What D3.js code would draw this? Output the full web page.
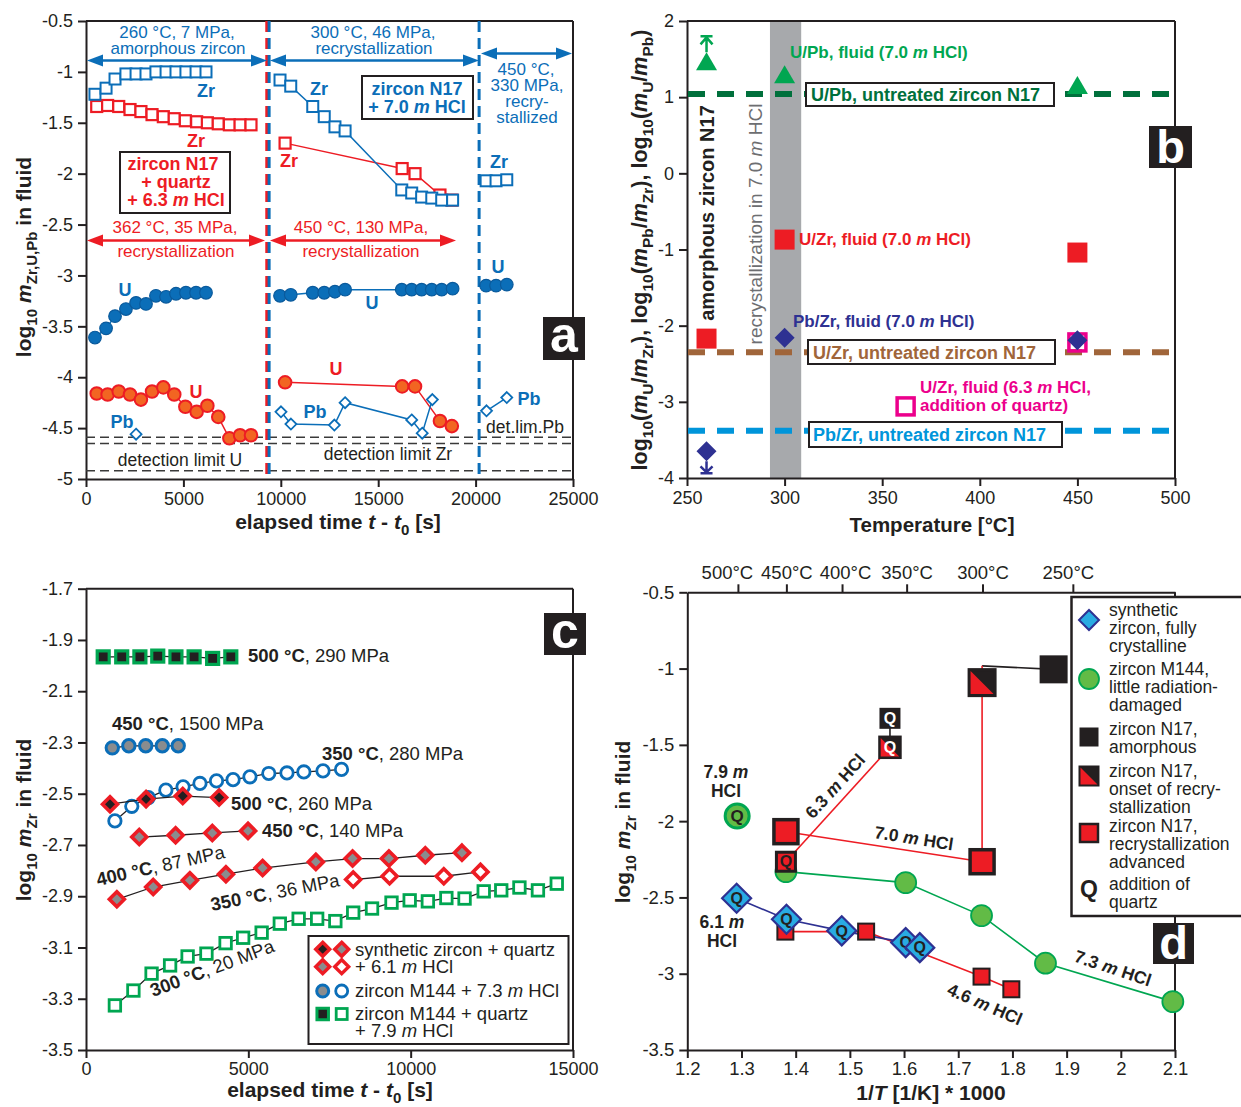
<!DOCTYPE html>
<html><head><meta charset="utf-8">
<script src="https://cdn.jsdelivr.net/npm/d3@7"></script>
<style>body{margin:0;background:#fff}svg{display:block;font-family:"Liberation Sans",Arial,Helvetica,sans-serif}</style>
</head><body><svg id="c" width="1241" height="1107"></svg>
<script>
// ---------------- DATA ----------------
// Panel a: elapsed time (s) and log10 m in fluid
const aXTicks = [0, 5000, 10000, 15000, 20000, 25000];
const aYTicks = [-0.5, -1, -1.5, -2, -2.5, -3, -3.5, -4, -4.5, -5];
const aTime260 = [460, 1030, 1490, 2050, 2570, 3080, 3590, 4110, 4620, 5130, 5650, 6160];
const aZr260 = [-1.22, -1.16, -1.07, -1.02, -1.02, -1.02, -1.0, -1.0, -1.0, -1.0, -1.0, -1.0];
const aU260 = [-3.61, -3.52, -3.40, -3.33, -3.27, -3.28, -3.20, -3.21, -3.18, -3.17, -3.17, -3.17];
const aPb260Time = [2570];
const aPb260 = [-4.56];
const aTime362 = [550, 1110, 1680, 2260, 2820, 3390, 3970, 4530, 5100, 5680, 6230, 6790, 7360, 7910, 8470];
const aZr362 = [-1.34, -1.33, -1.34, -1.37, -1.39, -1.42, -1.44, -1.46, -1.48, -1.49, -1.50, -1.51, -1.52, -1.52, -1.52];
const aU362 = [-4.16, -4.17, -4.14, -4.17, -4.22, -4.14, -4.10, -4.17, -4.29, -4.34, -4.28, -4.39, -4.60, -4.57, -4.57];
const aTime300 = [9960, 10510, 11640, 12230, 12780, 13300, 16210, 16720, 17230, 17750, 18260, 18820];
const aZr300 = [-1.08, -1.14, -1.34, -1.44, -1.54, -1.58, -2.16, -2.19, -2.23, -2.24, -2.26, -2.26];
const aU300 = [-3.20, -3.19, -3.17, -3.17, -3.16, -3.14, -3.14, -3.14, -3.14, -3.14, -3.14, -3.13];
const aPb300Time = [10010, 10520, 12750, 13300, 16720, 17260, 17780];
const aPb300 = [-4.34, -4.46, -4.47, -4.25, -4.42, -4.55, -4.22];
const aTime450r = [10220, 16230, 16890, 18170, 18780];
const aZr450r = [-1.70, -1.95, -2.00, -2.21, -2.26];
const aU450r = [-4.05, -4.09, -4.09, -4.43, -4.48];
const aTime450b = [20540, 21050, 21600];
const aZr450b = [-2.07, -2.07, -2.06];
const aU450b = [-3.10, -3.10, -3.09];
const aPb450Time = [20560, 21600];
const aPb450b = [-4.33, -4.20];
const aDetLimits = [-4.59, -4.65, -4.92];
const aPhaseRed = [9280];
const aPhaseBlue = [9400, 20180];

// Panel b: temperature (°C) and log ratios
const bXTicks = [250, 300, 350, 400, 450, 500];
const bYTicks = [2, 1, 0, -1, -2, -3, -4];
const bTemp = [260, 300, 450];
const bUPb = [1.47, 1.30, 1.16];
const bUZr = [-2.17, -0.87, -1.04];
const bPbZr = [-3.65, -2.16, -2.19];
const bQTemp = [362, 450];
const bUZrQ = [-3.06, -2.22];
const bRefUPb = 1.04, bRefUZr = -2.35, bRefPbZr = -3.38;
const bBand = [292.5, 308.5];

// Panel c: elapsed time (s), log10 mZr
const cXTicks = [0, 5000, 10000, 15000];
const cYTicks = [-1.7, -1.9, -2.1, -2.3, -2.5, -2.7, -2.9, -3.1, -3.3, -3.5];
const c500qT = [530, 1100, 1660, 2210, 2770, 3330, 3900, 4460];
const c500q = [-1.966, -1.966, -1.966, -1.963, -1.966, -1.966, -1.972, -1.966];
const c450mT = [810, 1320, 1840, 2350, 2840];
const c450m = [-2.321, -2.313, -2.313, -2.313, -2.313];
const c350mT = [890, 1410, 1920, 2460, 2990, 3510, 4020, 4530, 5050, 5630, 6190, 6710, 7300, 7870];
const c350m = [-2.606, -2.549, -2.515, -2.486, -2.473, -2.460, -2.450, -2.445, -2.434, -2.421, -2.419, -2.415, -2.411, -2.405];
const c500sT = [740, 1850, 2980, 4100];
const c500s = [-2.541, -2.521, -2.509, -2.515];
const c450sT = [1640, 2760, 3890, 4990];
const c450s = [-2.669, -2.662, -2.653, -2.645];
const c400sT = [950, 2070, 3200, 4310, 5440, 7080, 8210, 9330, 10450, 11580];
const c400s = [-2.912, -2.864, -2.838, -2.814, -2.790, -2.766, -2.753, -2.753, -2.740, -2.730];
const c350sT = [8230, 9350, 11020, 12150];
const c350s = [-2.835, -2.822, -2.822, -2.805];
const c300qT = [890, 1460, 2020, 2590, 3130, 3710, 4300, 4840, 5410, 5970, 6550, 7120, 7680, 8230, 8810, 9410, 9970, 10530, 11100, 11660, 12250, 12790, 13350, 13920, 14500];
const c300q = [-3.326, -3.268, -3.202, -3.170, -3.135, -3.124, -3.083, -3.062, -3.042, -3.007, -2.988, -2.988, -2.997, -2.964, -2.948, -2.925, -2.916, -2.920, -2.907, -2.909, -2.881, -2.877, -2.866, -2.877, -2.851];

// Panel d: 1000/T (1/K) and log10 mZr
const dXTicks = [1.2, 1.3, 1.4, 1.5, 1.6, 1.7, 1.8, 1.9, 2, 2.1];
const dYTicks = [-0.5, -1, -1.5, -2, -2.5, -3, -3.5];
const dTopTemps = [500, 450, 400, 350, 300, 250];
const dSynthX = [1.291, 1.383, 1.485, 1.603, 1.629];
const dSynthY = [-2.505, -2.643, -2.719, -2.796, -2.829];
const dM144X = [1.382, 1.603, 1.743, 1.861, 2.096];
const dM144Y = [-2.331, -2.403, -2.619, -2.931, -3.183];
const dM144QX = [1.292];
const dM144QY = [-1.966];
const dN17lowX = [1.381, 1.530, 1.743, 1.798];
const dN17lowY = [-2.724, -2.724, -3.019, -3.102];
const dN17hiX = [1.382, 1.744];
const dN17hiY = [-2.069, -2.266];
const dAmorphX = [1.876];
const dAmorphY = [-1.005];
const dOnsetX = [1.744];
const dOnsetY = [-1.092];
const dJointX = [1.876, 1.744, 1.744];
const dJointY = [-1.005, -0.982, -2.266];
const dQredX = [1.382];
const dQredY = [-2.266];
const dQonsetX = [1.574];
const dQonsetY = [-1.516];
const dQamorphX = [1.574];
const dQamorphY = [-1.326];

// ---------------- HELPERS ----------------
const svg = d3.select('#c');
const INK = '#231f20', BLUE = '#0b6eb8', RED = '#ed1c24', ORANGE = '#f26522', GREEN = '#00a651',
  DKGREEN = '#00703c', BROWN = '#a0653a', SKY = '#0095da', MAG = '#ec008c', NAVY = '#2e3192',
  CYAN = '#29abe2', LGREEN = '#62bb46', GRAY = '#8a8c8e';
const FONT = '"Liberation Sans", Arial, Helvetica, sans-serif';

function rich(t, parts, size) {
  let shift = 0;
  parts.forEach(p => {
    if (typeof p === 'string') p = { t: p };
    const ts = t.append('tspan').text(p.t);
    const target = p.sub ? size * 0.27 : 0;
    if (target !== shift) { ts.attr('dy', target - shift); shift = target; }
    if (p.sub) ts.attr('font-size', size * 0.72);
    if (p.i) ts.attr('font-style', 'italic');
    if (p.w) ts.attr('font-weight', p.w);
  });
}
function txt(g, x, y, parts, o = {}) {
  const size = o.size || 17;
  const t = g.append('text').attr('x', x).attr('y', y).attr('font-size', size)
    .attr('fill', o.fill || INK).attr('text-anchor', o.anchor || 'start')
    .attr('font-weight', o.weight || 'normal');
  if (o.transform) t.attr('transform', o.transform);
  if (o.dy) t.attr('dy', o.dy);
  if (typeof parts === 'string') t.text(parts); else rich(t, parts, size);
  return t;
}
function axis(g, gen, tr, fs) {
  const a = g.append('g').attr('transform', tr).call(gen);
  a.attr('font-family', FONT);
  a.selectAll('path.domain').attr('stroke', INK).attr('stroke-width', 2);
  a.selectAll('.tick line').attr('stroke', INK).attr('stroke-width', 2);
  a.selectAll('.tick text').attr('fill', INK).attr('font-size', fs || 18);
  return a;
}
function sq(g, x, y, s, fill, stroke, sw) {
  return g.append('rect').attr('x', x - s / 2).attr('y', y - s / 2).attr('width', s).attr('height', s)
    .attr('fill', fill).attr('stroke', stroke || 'none').attr('stroke-width', sw || 0);
}
function circ(g, x, y, r, fill, stroke, sw) {
  return g.append('circle').attr('cx', x).attr('cy', y).attr('r', r)
    .attr('fill', fill).attr('stroke', stroke || 'none').attr('stroke-width', sw || 0);
}
function diam(g, x, y, h, fill, stroke, sw) {
  return g.append('path').attr('d', `M${x},${y - h}L${x + h},${y}L${x},${y + h}L${x - h},${y}Z`)
    .attr('fill', fill).attr('stroke', stroke || 'none').attr('stroke-width', sw || 0).attr('stroke-linejoin', 'miter');
}
function tri(g, x, y, w, h, fill) {
  return g.append('path').attr('d', `M${x},${y - h / 2}L${x + w / 2},${y + h / 2}L${x - w / 2},${y + h / 2}Z`).attr('fill', fill);
}
function split(g, x, y, s, sw) {
  sq(g, x, y, s, INK, INK, sw);
  const h = s / 2 - sw / 2;
  g.append('path').attr('d', `M${x - h},${y - h}L${x - h},${y + h}L${x + h},${y + h}Z`).attr('fill', RED);
}
function Q(g, x, y, size, fill) {
  txt(g, x, y, 'Q', { size: size, weight: 'bold', anchor: 'middle', fill: fill || INK, dy: '0.36em' });
}
function series(g, X, Y, xs, ys, lineColor, lw, mark) {
  const pts = d3.zip(xs, ys);
  if (lineColor) g.append('path').attr('d', d3.line().x(d => X(d[0])).y(d => Y(d[1]))(pts))
    .attr('fill', 'none').attr('stroke', lineColor).attr('stroke-width', lw || 1.5);
  if (mark) pts.forEach(d => mark(X(d[0]), Y(d[1])));
}
function dArrow(g, x1, x2, y, color) {
  const hl = 16, hw = 6;
  g.append('line').attr('x1', x1 + hl - 2).attr('x2', x2 - hl + 2).attr('y1', y).attr('y2', y)
    .attr('stroke', color).attr('stroke-width', 2.5);
  g.append('path').attr('d', `M${x1},${y}L${x1 + hl},${y - hw}L${x1 + hl},${y + hw}Z`).attr('fill', color);
  g.append('path').attr('d', `M${x2},${y}L${x2 - hl},${y - hw}L${x2 - hl},${y + hw}Z`).attr('fill', color);
}
function panelTag(g, x, y, w, h, letter, size, base) {
  g.append('rect').attr('x', x).attr('y', y).attr('width', w).attr('height', h).attr('fill', INK);
  txt(g, x + w / 2, base, letter, { size: size, weight: 'bold', anchor: 'middle', fill: '#fff' });
}
function box(g, x, y, w, h, sw) {
  g.append('rect').attr('x', x).attr('y', y).attr('width', w).attr('height', h)
    .attr('fill', '#fff').attr('stroke', INK).attr('stroke-width', sw || 2);
}
function hline(g, x1, x2, y, color, sw, dash) {
  const l = g.append('line').attr('x1', x1).attr('x2', x2).attr('y1', y).attr('y2', y)
    .attr('stroke', color).attr('stroke-width', sw);
  if (dash) l.attr('stroke-dasharray', dash);
}
function vline(g, x, y1, y2, color, sw, dash) {
  const l = g.append('line').attr('x1', x).attr('x2', x).attr('y1', y1).attr('y2', y2)
    .attr('stroke', color).attr('stroke-width', sw);
  if (dash) l.attr('stroke-dasharray', dash);
}

// ================= PANEL A =================
(function () {
  const g = svg.append('g');
  const X = d3.scaleLinear([0, 25000], [86, 573]);
  const Y = d3.scaleLinear([-5, -0.5], [479, 21]);
  const fmt = d => String(d);
  hline(g, 86, 573, 21, INK, 2);
  vline(g, 573, 21, 479, INK, 2);
  axis(g, d3.axisLeft(Y).tickValues(aYTicks).tickFormat(fmt).tickSize(8).tickPadding(5).tickSizeOuter(0), 'translate(86,0)');
  axis(g, d3.axisBottom(X).tickValues(aXTicks).tickFormat(fmt).tickSize(8).tickPadding(5).tickSizeOuter(0), 'translate(0,479)');
  aDetLimits.forEach(v => hline(g, 86, 573, Y(v), '#3a3a3a', 1.5, '9,5'));
  aPhaseRed.forEach(t => vline(g, X(t), 21, 479, RED, 3, '11,6'));
  aPhaseBlue.forEach(t => vline(g, X(t), 21, 479, BLUE, 3, '11,6'));

  const redSq = (x, y) => sq(g, x, y, 11, '#fff', RED, 2.2);
  const redCi = (x, y) => circ(g, x, y, 6.3, ORANGE, RED, 2);
  const blSq = (x, y) => sq(g, x, y, 11, '#fff', BLUE, 2);
  const blCi = (x, y) => circ(g, x, y, 6.3, BLUE, '#0a5a9c', 1.2);
  const blDi = (x, y) => diam(g, x, y, 5.5, '#fff', BLUE, 1.8);
  series(g, X, Y, aTime362, aZr362, RED, 1.5, redSq);
  series(g, X, Y, aTime362, aU362, RED, 1.5, redCi);
  series(g, X, Y, aTime450r, aZr450r, RED, 1.5, redSq);
  series(g, X, Y, aTime450r, aU450r, RED, 1.5, redCi);
  series(g, X, Y, aTime260, aZr260, BLUE, 1.5, blSq);
  series(g, X, Y, aTime260, aU260, BLUE, 1.5, blCi);
  series(g, X, Y, aPb260Time, aPb260, null, 0, blDi);
  series(g, X, Y, aTime300, aZr300, BLUE, 1.5, blSq);
  series(g, X, Y, aTime300, aU300, BLUE, 1.5, blCi);
  series(g, X, Y, aPb300Time, aPb300, BLUE, 1.5, blDi);
  series(g, X, Y, aTime450b, aZr450b, BLUE, 1.5, blSq);
  series(g, X, Y, aTime450b, aU450b, BLUE, 1.5, blCi);
  series(g, X, Y, aPb450Time, aPb450b, BLUE, 1.5, blDi);

  dArrow(g, 87, 267, 60.5, BLUE);
  dArrow(g, 270, 479, 60.5, BLUE);
  dArrow(g, 481, 572, 53.5, BLUE);
  dArrow(g, 87, 265, 240.5, RED);
  dArrow(g, 270, 456, 240.5, RED);
  const S = 17;
  txt(g, 177, 37.5, '260 °C, 7 MPa,', { size: S, fill: BLUE, anchor: 'middle' });
  txt(g, 178, 53.5, 'amorphous zircon', { size: S, fill: BLUE, anchor: 'middle' });
  txt(g, 373, 37.5, '300 °C, 46 MPa,', { size: S, fill: BLUE, anchor: 'middle' });
  txt(g, 374, 53.5, 'recrystallization', { size: S, fill: BLUE, anchor: 'middle' });
  txt(g, 526, 75, '450 °C,', { size: S, fill: BLUE, anchor: 'middle' });
  txt(g, 527, 91, '330 MPa,', { size: S, fill: BLUE, anchor: 'middle' });
  txt(g, 527, 107, 'recry-', { size: S, fill: BLUE, anchor: 'middle' });
  txt(g, 527, 123, 'stallized', { size: S, fill: BLUE, anchor: 'middle' });
  txt(g, 175, 233, '362 °C, 35 MPa,', { size: S, fill: RED, anchor: 'middle' });
  txt(g, 176, 257, 'recrystallization', { size: S, fill: RED, anchor: 'middle' });
  txt(g, 361, 233, '450 °C, 130 MPa,', { size: S, fill: RED, anchor: 'middle' });
  txt(g, 361, 257, 'recrystallization', { size: S, fill: RED, anchor: 'middle' });
  box(g, 120, 152, 110, 61, 2);
  txt(g, 173, 170, 'zircon N17', { size: 18, weight: 'bold', fill: RED, anchor: 'middle' });
  txt(g, 176, 188, '+ quartz', { size: 18, weight: 'bold', fill: RED, anchor: 'middle' });
  txt(g, 176, 205.5, ['+ 6.3 ', { t: 'm', i: 1 }, ' HCl'], { size: 18, weight: 'bold', fill: RED, anchor: 'middle' });
  box(g, 362, 76, 111, 43, 2);
  txt(g, 417, 94.5, 'zircon N17', { size: 18, weight: 'bold', fill: BLUE, anchor: 'middle' });
  txt(g, 417, 113, ['+ 7.0 ', { t: 'm', i: 1 }, ' HCl'], { size: 18, weight: 'bold', fill: BLUE, anchor: 'middle' });
  const L = (x, y, s, c) => txt(g, x, y, s, { size: 18, weight: 'bold', fill: c, anchor: 'middle' });
  L(206, 97, 'Zr', BLUE); L(196, 147, 'Zr', RED); L(319, 95, 'Zr', BLUE); L(289, 167, 'Zr', RED); L(499, 168, 'Zr', BLUE);
  L(125, 296, 'U', BLUE); L(372, 309, 'U', BLUE); L(498, 273, 'U', BLUE); L(196, 398, 'U', RED); L(336, 375, 'U', RED);
  L(122, 428, 'Pb', BLUE); L(315, 418, 'Pb', BLUE); L(529, 405, 'Pb', BLUE);
  txt(g, 180, 466, 'detection limit U', { size: 17.5, fill: INK, anchor: 'middle' });
  txt(g, 388, 460, 'detection limit Zr', { size: 17.5, fill: INK, anchor: 'middle' });
  txt(g, 525, 433, 'det.lim.Pb', { size: 17.5, fill: INK, anchor: 'middle' });
  txt(g, 0, 0, ['log', { t: '10', sub: 1 }, ' ', { t: 'm', i: 1 }, { t: 'Zr,U,Pb', sub: 1 }, ' in fluid'],
    { size: 21, weight: 'bold', anchor: 'middle', transform: 'translate(31,257) rotate(-90)' });
  txt(g, 338, 529, ['elapsed time ', { t: 't', i: 1 }, ' - ', { t: 't', i: 1 }, { t: '0', sub: 1 }, ' [s]'],
    { size: 21, weight: 'bold', anchor: 'middle' });
  panelTag(g, 543, 317, 42, 43, 'a', 50, 352);
})();

// ================= PANEL B =================
(function () {
  const g = svg.append('g');
  const X = d3.scaleLinear([250, 500], [687, 1175]);
  const Y = d3.scaleLinear([-4, 2], [478, 21]);
  g.append('rect').attr('x', X(bBand[0])).attr('y', Y(2)).attr('width', X(bBand[1]) - X(bBand[0]))
    .attr('height', Y(-4) - Y(2)).attr('fill', '#a7a9ac');
  hline(g, 687, 1175, 21, INK, 2);
  vline(g, 1175, 21, 478, INK, 2);
  axis(g, d3.axisLeft(Y).tickValues(bYTicks).tickFormat(d => String(d)).tickSize(8).tickPadding(5).tickSizeOuter(0), 'translate(687,0)');
  axis(g, d3.axisBottom(X).tickValues(bXTicks).tickFormat(d => String(d)).tickSize(8).tickPadding(5).tickSizeOuter(0), 'translate(0,478)');
  hline(g, 688, 1174, Y(bRefUPb), DKGREEN, 6, '17,12');
  hline(g, 688, 1174, Y(bRefUZr), BROWN, 6, '17,12');
  hline(g, 688, 1174, Y(bRefPbZr), SKY, 6, '17,12');
  txt(g, 0, 0, 'amorphous zircon N17', { size: 20, weight: 'bold', anchor: 'middle', transform: 'translate(714,213) rotate(-90)' });
  txt(g, 0, 0, ['recrystallization in 7.0 ', { t: 'm', i: 1 }, ' HCl'], { size: 19, fill: '#6d6e71', anchor: 'middle', transform: 'translate(762,224) rotate(-90)' });
  box(g, 806, 83, 248, 23, 2);
  txt(g, 811, 101, 'U/Pb, untreated zircon N17', { size: 18, weight: 'bold', fill: DKGREEN });
  box(g, 808, 340, 247, 24, 2);
  txt(g, 813, 359, 'U/Zr, untreated zircon N17', { size: 18, weight: 'bold', fill: BROWN });
  box(g, 809, 422, 253, 25, 2);
  txt(g, 813, 441, 'Pb/Zr, untreated zircon N17', { size: 18, weight: 'bold', fill: SKY });
  series(g, X, Y, bTemp, bUPb, null, 0, (x, y) => tri(g, x, y, 21, 18, GREEN));
  series(g, X, Y, bTemp, bUZr, null, 0, (x, y) => sq(g, x, y, 20, RED));
  series(g, X, Y, bQTemp, bUZrQ, null, 0, (x, y) => sq(g, x, y, 17, 'none', MAG, 3.5));
  series(g, X, Y, bTemp, bPbZr, null, 0, (x, y) => diam(g, x, y, 10, NAVY));
  const xa = X(bTemp[0]);
  const yt = Y(bUPb[0]) - 9;
  g.append('path').attr('d', `M${xa},${yt}L${xa},${yt - 15}M${xa - 6},${yt - 8}L${xa},${yt - 15}L${xa + 6},${yt - 8}M${xa - 6},${yt - 16}L${xa + 6},${yt - 16}`)
    .attr('fill', 'none').attr('stroke', GREEN).attr('stroke-width', 2.5);
  const yd = Y(bPbZr[0]) + 10;
  g.append('path').attr('d', `M${xa},${yd}L${xa},${yd + 11}M${xa - 6},${yd + 5}L${xa},${yd + 11}L${xa + 6},${yd + 5}M${xa - 6},${yd + 12}L${xa + 6},${yd + 12}`)
    .attr('fill', 'none').attr('stroke', NAVY).attr('stroke-width', 2.5);
  txt(g, 790, 58, ['U/Pb, fluid (7.0 ', { t: 'm', i: 1 }, ' HCl)'], { size: 17, weight: 'bold', fill: GREEN });
  txt(g, 799, 245, ['U/Zr, fluid (7.0 ', { t: 'm', i: 1 }, ' HCl)'], { size: 17, weight: 'bold', fill: RED });
  txt(g, 793, 327, ['Pb/Zr, fluid (7.0 ', { t: 'm', i: 1 }, ' HCl)'], { size: 17, weight: 'bold', fill: NAVY });
  txt(g, 920, 393, ['U/Zr, fluid (6.3 ', { t: 'm', i: 1 }, ' HCl,'], { size: 17, weight: 'bold', fill: MAG });
  txt(g, 920, 410.5, 'addition of quartz)', { size: 17, weight: 'bold', fill: MAG });
  txt(g, 0, 0, ['log', { t: '10', sub: 1 }, '(', { t: 'm', i: 1 }, { t: 'U', sub: 1 }, '/', { t: 'm', i: 1 }, { t: 'Zr', sub: 1 },
    '), log', { t: '10', sub: 1 }, '(', { t: 'm', i: 1 }, { t: 'Pb', sub: 1 }, '/', { t: 'm', i: 1 }, { t: 'Zr', sub: 1 },
    '), log', { t: '10', sub: 1 }, '(', { t: 'm', i: 1 }, { t: 'U', sub: 1 }, '/', { t: 'm', i: 1 }, { t: 'Pb', sub: 1 }, ')'],
    { size: 21.5, weight: 'bold', anchor: 'middle', transform: 'translate(647,250) rotate(-90)' });
  txt(g, 932, 532, 'Temperature [°C]', { size: 20.5, weight: 'bold', anchor: 'middle' });
  panelTag(g, 1149, 126, 43, 42, 'b', 47, 163);
})();

// ================= PANEL C =================
(function () {
  const g = svg.append('g');
  const X = d3.scaleLinear([0, 15000], [86, 573]);
  const Y = d3.scaleLinear([-3.5, -1.7], [1050, 588.7]);
  hline(g, 86, 573, 588.7, INK, 2);
  vline(g, 573, 588.7, 1050, INK, 2);
  axis(g, d3.axisLeft(Y).tickValues(cYTicks).tickFormat(d => String(d)).tickSize(8).tickPadding(5).tickSizeOuter(0), 'translate(86,0)');
  axis(g, d3.axisBottom(X).tickValues(cXTicks).tickFormat(d => String(d)).tickSize(8).tickPadding(4).tickSizeOuter(0), 'translate(0,1050)');
  const gSqF = (x, y) => sq(g, x, y, 12, INK, GREEN, 3.2);
  const gSqO = (x, y) => sq(g, x, y, 11.5, '#fff', GREEN, 2.8);
  const bCiF = (x, y) => circ(g, x, y, 6.2, GRAY, BLUE, 3);
  const bCiO = (x, y) => circ(g, x, y, 6.2, '#fff', BLUE, 2.8);
  const rDi = f => (x, y) => diam(g, x, y, 7.5, f, RED, 3.6);
  series(g, X, Y, c300qT, c300q, INK, 1.3, gSqO);
  series(g, X, Y, c500qT, c500q, INK, 1.3, gSqF);
  series(g, X, Y, c450mT, c450m, INK, 1.3, bCiF);
  series(g, X, Y, c350mT, c350m, INK, 1.3, bCiO);
  series(g, X, Y, c500sT, c500s, INK, 1.3, rDi(INK));
  series(g, X, Y, c450sT, c450s, INK, 1.3, rDi(GRAY));
  series(g, X, Y, c400sT, c400s, INK, 1.3, rDi(GRAY));
  series(g, X, Y, c350sT, c350s, INK, 1.3, rDi('#fff'));
  const S = 18.5;
  const lab = (x, y, a, b, tr) => txt(g, x, y, [{ t: a, w: 'bold' }, b], { size: S, transform: tr });
  lab(248, 662, '500 °C', ', 290 MPa');
  lab(112, 730, '450 °C', ', 1500 MPa');
  lab(322, 760, '350 °C', ', 280 MPa');
  lab(231, 810, '500 °C', ', 260 MPa');
  lab(262, 837, '450 °C', ', 140 MPa');
  lab(0, 0, '400 °C', ', 87 MPa', 'translate(98,886) rotate(-12.5)');
  lab(0, 0, '350 °C', ', 36 MPa', 'translate(212,911) rotate(-11)');
  lab(0, 0, '300 °C', ', 20 MPa', 'translate(153,997) rotate(-20.5)');
  box(g, 308.5, 936, 260, 108, 2);
  diam(g, 322.7, 949.3, 7, INK, RED, 3.4); diam(g, 341.7, 949.3, 7, GRAY, RED, 3.4);
  diam(g, 322.7, 966.7, 7, GRAY, RED, 3.4); diam(g, 341.7, 966.7, 7, '#fff', RED, 3.4);
  circ(g, 322.7, 991, 6, GRAY, BLUE, 3); circ(g, 341.7, 991, 6, '#fff', BLUE, 2.8);
  sq(g, 322.7, 1014, 11.5, INK, GREEN, 3); sq(g, 341.7, 1014, 11, '#fff', GREEN, 2.8);
  txt(g, 355, 955.5, 'synthetic zircon + quartz', { size: S });
  txt(g, 355, 973, ['+ 6.1 ', { t: 'm', i: 1 }, ' HCl'], { size: S });
  txt(g, 355, 997, ['zircon M144 + 7.3 ', { t: 'm', i: 1 }, ' HCl'], { size: S });
  txt(g, 355, 1019.5, 'zircon M144 + quartz', { size: S });
  txt(g, 355, 1037, ['+ 7.9 ', { t: 'm', i: 1 }, ' HCl'], { size: S });
  txt(g, 0, 0, ['log', { t: '10', sub: 1 }, ' ', { t: 'm', i: 1 }, { t: 'Zr', sub: 1 }, ' in fluid'],
    { size: 21, weight: 'bold', anchor: 'middle', transform: 'translate(31,820) rotate(-90)' });
  txt(g, 330, 1097, ['elapsed time ', { t: 't', i: 1 }, ' - ', { t: 't', i: 1 }, { t: '0', sub: 1 }, ' [s]'],
    { size: 21, weight: 'bold', anchor: 'middle' });
  panelTag(g, 544, 613, 42, 42, 'c', 50, 648);
})();

// ================= PANEL D =================
(function () {
  const g = svg.append('g');
  const X = d3.scaleLinear([1.2, 2.1], [687.3, 1175]);
  const Y = d3.scaleLinear([-3.5, -0.5], [1050, 592.3]);
  vline(g, 1175, 592.3, 1050, INK, 2);
  axis(g, d3.axisLeft(Y).tickValues(dYTicks).tickFormat(d => String(d)).tickSize(8).tickPadding(5).tickSizeOuter(0), 'translate(687.3,0)', 18.5);
  axis(g, d3.axisBottom(X).tickValues(dXTicks).tickFormat(d => String(d)).tickSize(8).tickPadding(4).tickSizeOuter(0), 'translate(0,1050)', 18.5);
  const top = d3.axisTop(X).tickValues(dTopTemps.map(t => 1000 / (t + 273.15))).tickFormat((d, i) => dTopTemps[i] + '°C')
    .tickSize(8).tickPadding(5).tickSizeOuter(0);
  const ta = axis(g, top, 'translate(0,592.3)', 18.5);
  ta.selectAll('.tick text').filter((d, i) => i === 0).attr('dx', -11);
  ta.selectAll('.tick text').filter((d, i) => i === 2).attr('dx', 3);
  ta.selectAll('.tick text').filter((d, i) => i === 5).attr('dx', -5);
  const ln = (xs, ys, c, w) => series(g, X, Y, xs, ys, c, w, null);
  ln(dM144X, dM144Y, GREEN, 1.6);
  ln(dN17lowX, dN17lowY, RED, 1.6);
  ln(dN17hiX, dN17hiY, RED, 1.6);
  ln(dJointX.slice(0, 2), dJointY.slice(0, 2), INK, 1.6);
  ln(dJointX.slice(1), dJointY.slice(1), RED, 1.6);
  ln(dQredX.concat(dQonsetX), dQredY.concat(dQonsetY), RED, 1.6);
  ln(dQonsetX.concat(dQamorphX), dQonsetY.concat(dQamorphY), INK, 1.6);
  ln(dSynthX, dSynthY, NAVY, 1.6);
  series(g, X, Y, dM144X, dM144Y, null, 0, (x, y) => circ(g, x, y, 10.5, LGREEN, GREEN, 1.8));
  series(g, X, Y, dM144QX, dM144QY, null, 0, (x, y) => { circ(g, x, y, 12, LGREEN, GREEN, 3); Q(g, x, y, 17); });
  series(g, X, Y, dN17lowX, dN17lowY, null, 0, (x, y) => sq(g, x, y, 16, RED, INK, 2));
  series(g, X, Y, dSynthX, dSynthY, null, 0, (x, y) => { diam(g, x, y, 14.5, CYAN, NAVY, 2.2); Q(g, x, y, 16); });
  series(g, X, Y, dN17hiX, dN17hiY, null, 0, (x, y) => sq(g, x, y, 24, RED, INK, 3.5));
  series(g, X, Y, dAmorphX, dAmorphY, null, 0, (x, y) => sq(g, x, y, 28, INK));
  series(g, X, Y, dOnsetX, dOnsetY, null, 0, (x, y) => split(g, x, y, 26, 3));
  series(g, X, Y, dQredX, dQredY, null, 0, (x, y) => { sq(g, x, y, 19, RED, INK, 3); Q(g, x, y, 16); });
  series(g, X, Y, dQonsetX, dQonsetY, null, 0, (x, y) => { split(g, x, y, 21, 2.5); Q(g, x, y, 16, '#fff'); });
  series(g, X, Y, dQamorphX, dQamorphY, null, 0, (x, y) => { sq(g, x, y, 21, INK); Q(g, x, y, 16, '#fff'); });
  const B = { size: 17.5, weight: 'bold', anchor: 'middle' };
  txt(g, 726, 778, ['7.9 ', { t: 'm', i: 1 }], B);
  txt(g, 726, 797, 'HCl', B);
  txt(g, 722, 928, ['6.1 ', { t: 'm', i: 1 }], B);
  txt(g, 722, 947, 'HCl', B);
  const R = (x, y, a, s) => txt(g, 0, 0, [s, { t: 'm', i: 1 }, ' HCl'], Object.assign({ dy: '0.36em', transform: `translate(${x},${y}) rotate(${a})` }, B));
  R(835, 786, -48, '6.3 ');
  R(914, 838, 9, '7.0 ');
  R(985, 1004, 23.5, '4.6 ');
  R(1113, 968, 18.5, '7.3 ');
  g.append('rect').attr('x', 1071.5).attr('y', 597).attr('width', 190).attr('height', 319)
    .attr('fill', '#fff').attr('stroke', INK).attr('stroke-width', 2.5);
  diam(g, 1089, 620, 10, CYAN, NAVY, 2);
  circ(g, 1089, 679, 10, LGREEN, GREEN, 1.8);
  sq(g, 1089, 737, 19, INK);
  split(g, 1089, 776, 19, 2);
  sq(g, 1089, 833, 18, RED, INK, 2.5);
  txt(g, 1089, 897, 'Q', { size: 23, weight: 'bold', anchor: 'middle' });
  const LS = 17.5;
  [['synthetic', 616], ['zircon, fully', 634], ['crystalline', 652], ['zircon M144,', 675], ['little radiation-', 693],
   ['damaged', 711], ['zircon N17,', 735], ['amorphous', 753], ['zircon N17,', 777], ['onset of recry-', 795],
   ['stallization', 813], ['zircon N17,', 832], ['recrystallization', 850], ['advanced', 868], ['addition of', 890], ['quartz', 908]]
    .forEach(d => txt(g, 1109, d[1], d[0], { size: LS }));
  txt(g, 0, 0, ['log', { t: '10', sub: 1 }, ' ', { t: 'm', i: 1 }, { t: 'Zr', sub: 1 }, ' in fluid'],
    { size: 21, weight: 'bold', anchor: 'middle', transform: 'translate(630,822) rotate(-90)' });
  txt(g, 931, 1100, ['1/', { t: 'T', i: 1 }, ' [1/K] * 1000'], { size: 21, weight: 'bold', anchor: 'middle' });
  panelTag(g, 1153, 923, 41, 41, 'd', 47, 959);
})();
</script></body></html>
